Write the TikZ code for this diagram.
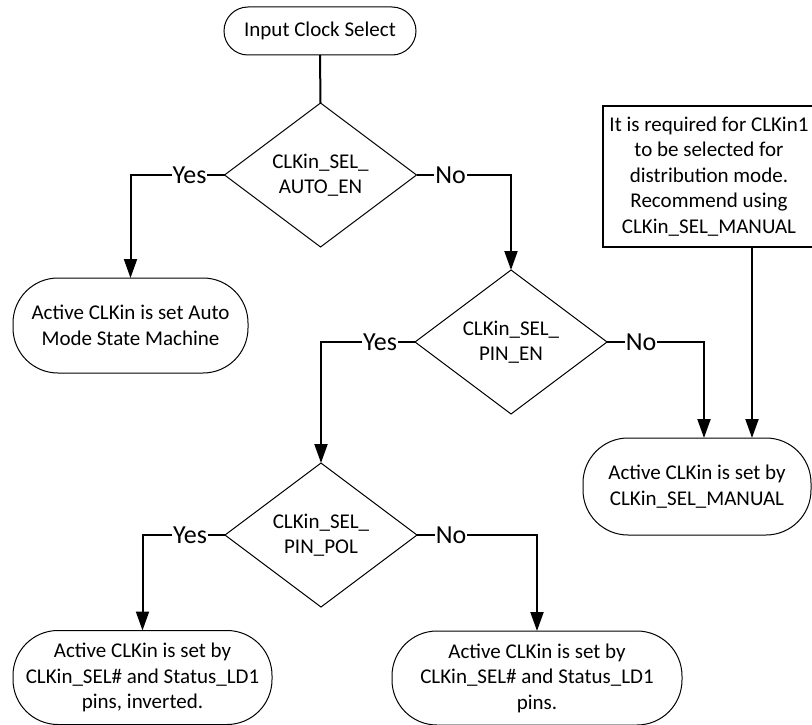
\documentclass[tikz,border=0pt]{standalone}
\usepackage{fontspec}
\setmainfont{Carlito}
\usetikzlibrary{shapes.geometric,arrows.meta}
\begin{document}
\begin{tikzpicture}[x=1pt,y=-1pt,
  txt/.style={font=\fontsize{21}{25.5}\selectfont, align=center, inner sep=0pt, outer sep=0pt},
  term/.style={txt, draw, line width=1pt, rounded corners=#1},
  term/.default=45pt,
  dia/.style={txt, draw, diamond, line width=1pt, minimum width=192pt, minimum height=144pt},
  note/.style={txt, draw, line width=2pt, minimum width=212pt, minimum height=141pt},
  conn/.style={line width=2pt},
  arr/.style={conn, -{Triangle[length=19pt,width=13pt]}},
  lbl/.style={fill=white, inner sep=1pt, font=\fontsize{26}{30}\selectfont}
]
\fill[white] (0,0) rectangle (812,725);
\useasboundingbox (0,0) rectangle (812,725);

\node[term=24pt, minimum width=192pt, minimum height=48pt] (start) at (320,31) {Input Clock Select};
\node[dia] (d1) at (320.5,175) {CLKin\_SEL\_\\AUTO\_EN};
\node[term, minimum width=235pt, minimum height=95pt] (auto) at (130.5,325.5) {Active CLKin is set Auto\\Mode State Machine};
\node[dia] (d2) at (511,342) {CLKin\_SEL\_\\PIN\_EN};
\node[note] (note) at (709,176.5) {It is required for CLKin1\\to be selected for\\distribution mode.\\Recommend using\\CLKin\_SEL\_MANUAL};
\node[term, minimum width=228pt, minimum height=97pt] (manual) at (697,486.5) {Active CLKin is set by\\CLKin\_SEL\_MANUAL};
\node[dia] (d3) at (321,535) {CLKin\_SEL\_\\PIN\_POL};
\node[term, minimum width=259pt, minimum height=94pt] (inv) at (142.5,677.5) {Active CLKin is set by\\CLKin\_SEL\# and Status\_LD1\\pins, inverted.};
\node[term, minimum width=290pt, minimum height=94pt] (pins) at (537,678) {Active CLKin is set by\\CLKin\_SEL\# and Status\_LD1\\pins.};

\draw[conn] (start.south) -- (d1.north);
\draw[arr] (d1.west) -- ++(-35,0) node[lbl]{Yes} -| (auto.north);
\draw[arr] (d1.east) -- ++(34,0) node[lbl]{No} -| (d2.north);
\draw[arr] (d2.west) -- ++(-35,0) node[lbl]{Yes} -| (d3.north);
\draw[arr] (d2.east) -- ++(34,0) node[lbl]{No} -| ([xshift=7pt]manual.north);
\draw[arr] ([xshift=43pt]note.south) -- ([xshift=55pt]manual.north);
\draw[arr] (d3.west) -- ++(-35,0) node[lbl]{Yes} -| (inv.north);
\draw[arr] (d3.east) -- ++(34,0) node[lbl]{No} -| (pins.north);
\end{tikzpicture}
\end{document}
